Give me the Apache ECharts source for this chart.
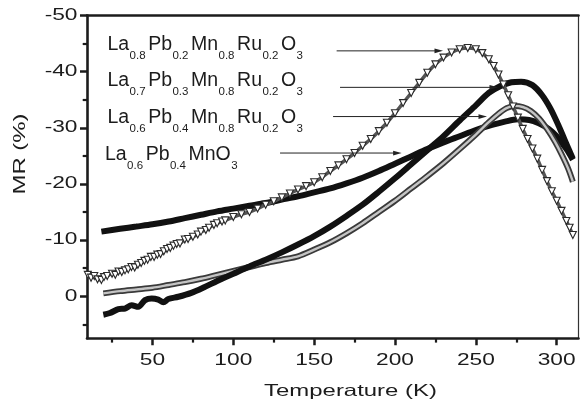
<!DOCTYPE html>
<html><head><meta charset="utf-8">
<script src="https://cdn.jsdelivr.net/npm/echarts@6/dist/echarts.min.js"></script>
<style>html,body{margin:0;padding:0;background:#fff}#c{width:580px;height:414px}</style>
</head><body><div id="c"></div>
<script>
// ---------- data ----------
const xTickLabels = [50, 100, 150, 200, 250, 300];
const xMinorTicks = [25, 75, 125, 175, 225, 275];
const yTickLabels = [-50, -40, -30, -20, -10, 0];
const yMinorTicks = [-45, -35, -25, -15, -5, 5];
const xName = 'Temperature (K)';
const yName = 'MR (%)';

// sample labels: [main, subscript] pairs
const labelA = [['La','0.8'],['Pb','0.2'],['Mn','0.8'],['Ru','0.2'],['O','3']];
const labelB = [['La','0.7'],['Pb','0.3'],['Mn','0.8'],['Ru','0.2'],['O','3']];
const labelC = [['La','0.6'],['Pb','0.4'],['Mn','0.8'],['Ru','0.2'],['O','3']];
const labelD = [['La','0.6'],['Pb','0.4'],['MnO','3']];

// annotation arrows, data coordinates [T, MR]
const arrowFrom = [[163.9,-43.7],[166.0,-37.2],[161.7,-32.0],[128.9,-25.5]];
const arrowTo   = [[229.7,-43.7],[263.7,-37.2],[256.9,-32.0],[204.1,-25.5]];

// La0.8Pb0.2Mn0.8Ru0.2O3 (open triangles)
const tA = [10,12,14,16,18.4,20,22,25,27,29,31,33,35,37,39,41,43,45,47,49,51,53,55,57,59,61,63,65,67,70,72,75,78,80,83,85,88,90,93,95,100,105,110,115,120,125,130,135,140,145,150,155,160,165,170,175,180,185,190,195,200,205,210,215,220,225,230,235,240,245,250,254,258,261,264,267,270,273,276,279,282,285,288,291,294,297,300,303,306,308,310];
const mrA = [-3.8,-3.3,-3.6,-3.0,-2.9,-3.4,-3.6,-4.0,-3.8,-4.4,-4.3,-4.6,-4.8,-5.2,-5.1,-5.6,-5.9,-6.3,-6.5,-7.0,-7.0,-7.4,-7.5,-8.0,-8.4,-8.6,-9.0,-9.3,-9.4,-10.1,-10.2,-10.6,-11.0,-11.5,-11.8,-12.2,-12.7,-13.0,-13.3,-13.5,-14.1,-14.6,-15.0,-15.6,-16.3,-16.9,-17.6,-18.3,-19.0,-19.6,-20.3,-21.2,-22.3,-23.3,-24.4,-25.5,-26.8,-28.0,-29.4,-30.9,-32.6,-34.4,-36.2,-38.0,-39.8,-41.3,-42.5,-43.4,-44.0,-44.2,-44.0,-43.3,-42.2,-41.0,-39.5,-37.7,-35.8,-33.8,-31.8,-29.8,-28.0,-26.3,-24.5,-22.5,-20.5,-18.7,-17.0,-15.2,-13.4,-12.2,-10.9];

// La0.7Pb0.3Mn0.8Ru0.2O3 (filled circles)
const tB = [19.6,23.7,28.9,33,37.1,41.2,45.4,49.5,53.6,56.7,59.8,66,74,82,90,100,110,120,130,140,150,160,170,180,190,200,210,220,230,240,250,258,265,272,278,285,291,296,301,305,310];
const mrB = [3.3,3.0,2.3,2.2,1.6,1.9,0.7,0.4,0.6,1.1,0.5,0.1,-0.6,-1.6,-2.7,-4.0,-5.3,-6.5,-7.8,-9.2,-10.7,-12.4,-14.3,-16.3,-18.6,-21.0,-23.5,-26.0,-28.5,-31.3,-34.0,-36.2,-37.4,-38.1,-38.2,-37.6,-35.8,-33.5,-30.5,-27.8,-24.5];

// La0.6Pb0.4Mn0.8Ru0.2O3 (open circles)
const tC = [19.6,30,40,50,60,70,80,90,100,110,120,130,140,150,160,170,180,190,200,210,220,230,240,250,258,264,269,274,279,284,289,294,299,303,307,310];
const mrC = [-0.5,-0.9,-1.2,-1.5,-2.0,-2.5,-3.1,-3.8,-4.5,-5.2,-5.9,-6.5,-7.1,-8.3,-9.6,-11.2,-13.0,-15.0,-17.0,-19.2,-21.4,-23.7,-26.2,-28.8,-31.0,-32.5,-33.5,-33.9,-33.7,-33.0,-31.7,-29.8,-27.5,-25.3,-22.8,-20.4];

// La0.6Pb0.4MnO3
const tD = [18.4,30,40,50,60,70,80,90,100,110,120,130,140,150,160,170,180,190,200,210,220,230,240,250,260,268,276,283,289,295,300,304,307,310];
const mrD = [-11.5,-12.0,-12.4,-12.8,-13.3,-13.9,-14.5,-15.1,-15.6,-16.1,-16.6,-17.2,-17.8,-18.5,-19.2,-20.1,-21.1,-22.3,-23.6,-24.9,-26.2,-27.4,-28.5,-29.6,-30.5,-31.1,-31.5,-31.4,-30.8,-29.8,-28.5,-27.0,-25.8,-24.3];

// ---------- chart ----------
const zip = (a, b) => a.map((v, i) => [v, b[i]]);
const FONT = '"Liberation Sans", Arial, Helvetica, sans-serif';
const INK = '#1c1c1c';

const chart = echarts.init(document.getElementById('c'), null, {renderer: 'canvas'});

const baseX = {type: 'value', min: 9.5, max: 313.5, splitLine: {show: false}, axisLabel: {show: false}};
const baseY = {type: 'value', min: -50, max: 7.5, inverse: true, splitLine: {show: false}, axisLabel: {show: false}};

chart.setOption({
  animation: false,
  backgroundColor: '#fff',
  grid: {left: 87, top: 15.5, width: 491.5, height: 322.8, containLabel: false},
  xAxis: [
    Object.assign({}, baseX, {position: 'bottom',
      axisLine: {show: true, onZero: false, lineStyle: {color: INK, width: 2.6}},
      axisTick: {show: true, customValues: xTickLabels, length: 7, lineStyle: {color: INK, width: 2.5}}}),
    Object.assign({}, baseX, {position: 'bottom',
      axisLine: {show: false, onZero: false},
      axisTick: {show: true, customValues: xMinorTicks, length: 4.3, lineStyle: {color: INK, width: 2.2}}}),
    Object.assign({}, baseX, {position: 'top',
      axisLine: {show: true, onZero: false, lineStyle: {color: INK, width: 2.6}},
      axisTick: {show: false}})
  ],
  yAxis: [
    Object.assign({}, baseY, {position: 'left',
      axisLine: {show: true, onZero: false, lineStyle: {color: INK, width: 2.6}},
      axisTick: {show: true, customValues: yTickLabels, length: 7, lineStyle: {color: INK, width: 2.5}}}),
    Object.assign({}, baseY, {position: 'left',
      axisLine: {show: false, onZero: false},
      axisTick: {show: true, customValues: yMinorTicks, length: 4.3, lineStyle: {color: INK, width: 2.2}}}),
    Object.assign({}, baseY, {position: 'right',
      axisLine: {show: true, onZero: false, lineStyle: {color: '#333', width: 1.2}},
      axisTick: {show: false}})
  ],
  series: [
    {name: 'La0.6Pb0.4MnO3', type: 'line', data: zip(tD, mrD), smooth: 0.3, symbol: 'none',
     lineStyle: {color: '#111', width: 6}, z: 2},
    {name: 'La0.6Pb0.4Mn0.8Ru0.2O3', type: 'line', data: zip(tC, mrC), smooth: 0.3, symbol: 'none',
     lineStyle: {color: '#3a3a3a', width: 6}, z: 3},
    {name: 'La0.6Pb0.4Mn0.8Ru0.2O3 ', type: 'line', data: zip(tC, mrC), smooth: 0.3, symbol: 'none',
     lineStyle: {color: '#c4c4c4', width: 2.4}, z: 3},
    {name: 'La0.7Pb0.3Mn0.8Ru0.2O3', type: 'line', data: zip(tB, mrB), smooth: 0.3, symbol: 'none',
     lineStyle: {color: '#111', width: 6}, z: 4},
    {name: 'La0.8Pb0.2Mn0.8Ru0.2O3', type: 'line', data: zip(tA, mrA), smooth: 0.3,
     symbol: 'triangle', symbolRotate: 180, symbolSize: 7, showSymbol: true, showAllSymbol: true,
     itemStyle: {color: '#fff', borderColor: '#2a2a2a', borderWidth: 1.1},
     lineStyle: {color: '#555', width: 3.5}, z: 5}
  ]
});

// ---------- texts and annotations ----------
const g = [];
const tickFont = '16px ' + FONT;
xTickLabels.forEach(v => {
  g.push({type: 'text', x: chart.convertToPixel({xAxisIndex: 0}, v), y: 360.2, scaleX: 1.42, z: 100,
    style: {text: String(v), x: 0, y: 0, align: 'center', verticalAlign: 'middle', font: tickFont, fill: INK}});
});
yTickLabels.forEach(v => {
  g.push({type: 'text', x: 77.5, y: chart.convertToPixel({yAxisIndex: 0}, v), scaleX: 1.42, z: 100,
    style: {text: String(v), x: 0, y: 0, align: 'right', verticalAlign: 'middle', font: tickFont, fill: INK}});
});
g.push({type: 'text', x: 350.5, y: 391, scaleX: 1.45, z: 100,
  style: {text: xName, x: 0, y: 0, align: 'center', verticalAlign: 'middle', font: '16.5px ' + FONT, fill: INK}});
g.push({type: 'text', x: 20.7, y: 154, rotation: Math.PI / 2, scaleX: 1.45, z: 100,
  style: {text: yName, x: 0, y: 0, align: 'center', verticalAlign: 'middle', font: '16.5px ' + FONT, fill: INK}});

function richText(parts) {
  return parts.map(p => '{m|' + p[0] + '}{s|' + p[1] + '}').join('');
}
const rich = {
  m: {font: '19.5px ' + FONT, fill: INK, verticalAlign: 'top'},
  s: {font: '11.5px ' + FONT, fill: INK, verticalAlign: 'top', padding: [15.4, 2.6, 0, 0.4]}
};
const labels = [labelA, labelB, labelC, labelD];
const labelPos = [[107.5, 34.2], [107.5, 70.8], [107.5, 107.5], [105, 144.2]];
labels.forEach((parts, i) => {
  g.push({type: 'text', x: labelPos[i][0], y: labelPos[i][1], z: 100,
    style: {text: richText(parts), rich: rich, x: 0, y: 0, align: 'left', verticalAlign: 'top', fill: INK, font: '19.5px ' + FONT}});
});

arrowFrom.forEach((f, i) => {
  const p0 = chart.convertToPixel({xAxisIndex: 0, yAxisIndex: 0}, f);
  const p1 = chart.convertToPixel({xAxisIndex: 0, yAxisIndex: 0}, arrowTo[i]);
  g.push({type: 'line', z: 100, shape: {x1: p0[0], y1: p0[1], x2: p1[0] - 6, y2: p1[1]},
    style: {stroke: '#222', lineWidth: 1}});
  g.push({type: 'polygon', z: 100, shape: {points: [[p1[0] - 8.5, p1[1] - 2.4], [p1[0], p1[1]], [p1[0] - 8.5, p1[1] + 2.4]]},
    style: {fill: '#222'}});
});

chart.setOption({graphic: g});
</script>
</body></html>
